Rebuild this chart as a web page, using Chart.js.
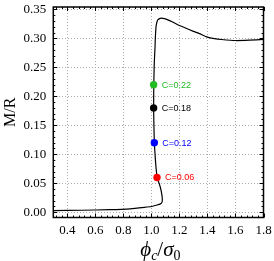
<!DOCTYPE html>
<html><head><meta charset="utf-8">
<script src="https://cdn.jsdelivr.net/npm/chart.js@4/dist/chart.umd.min.js"></script>
<style>html,body{margin:0;padding:0;background:#fff}canvas{display:block}</style>
</head><body>
<canvas id="c" width="274" height="261"></canvas>
<script>
const curveX=[0.30,0.50,0.70,0.85,0.95,1.00,1.04,1.065,1.076,1.078,1.075,1.066,1.055,1.041,1.032,1.026,1.021,1.018,1.016,1.017,1.021,1.026,1.028,1.034,1.045,1.063,1.081,1.105,1.152,1.20,1.30,1.343,1.40,1.45,1.50,1.60,1.70,1.80];
const curveY=[0.003,0.0035,0.0045,0.006,0.0085,0.010,0.0125,0.0145,0.0175,0.022,0.030,0.041,0.050,0.060,0.080,0.100,0.120,0.150,0.180,0.220,0.260,0.285,0.300,0.322,0.3316,0.3345,0.3345,0.333,0.328,0.322,0.312,0.308,0.302,0.2995,0.298,0.2962,0.2968,0.298];
const markX=[1.016,1.016,1.021,1.040];
const markY=[0.22,0.18,0.12,0.06];
const markLabels=['C=0.22','C=0.18','C=0.12','C=0.06'];
const markColors=['#22bb22','#000000','#0000ff','#ff0000'];
const xTicks=[0.4,0.6,0.8,1.0,1.2,1.4,1.6,1.8];
const yTicks=[0.00,0.05,0.10,0.15,0.20,0.25,0.30,0.35];

const datasets=[{
  data:curveX.map((x,i)=>({x:x,y:curveY[i]})),
  showLine:true,borderColor:'#000',borderWidth:1.2,pointRadius:0,tension:0.15,order:2
}];
markX.forEach((x,i)=>datasets.push({
  data:[{x:x,y:markY[i]}],pointRadius:3.7,pointBackgroundColor:markColors[i],
  pointBorderWidth:0,showLine:false,order:1,label:markLabels[i]
}));

const deco={
  id:'deco',
  afterDraw(chart){
    const ctx=chart.ctx, a=chart.chartArea, xs=chart.scales.x, ys=chart.scales.y;
    ctx.save();
    ctx.strokeStyle='#000';ctx.lineWidth=1;
    for(let v=0.32;v<=1.8001;v+=0.04){
      const px=Math.round(xs.getPixelForValue(v))+0.5;
      const major=Math.abs((v*5)-Math.round(v*5))<1e-6;
      const L=major?4:2;
      ctx.beginPath();ctx.moveTo(px,a.bottom);ctx.lineTo(px,a.bottom-L);
      ctx.moveTo(px,a.top);ctx.lineTo(px,a.top+L);ctx.stroke();
    }
    for(let v=0;v<=0.3501;v+=0.01){
      const py=Math.round(ys.getPixelForValue(v))+0.5;
      const major=Math.abs((v*20)-Math.round(v*20))<1e-6;
      const L=major?4:2;
      ctx.beginPath();ctx.moveTo(a.left,py);ctx.lineTo(a.left+L,py);
      ctx.moveTo(a.right,py);ctx.lineTo(a.right-L,py);ctx.stroke();
    }
    ctx.lineWidth=1.5;
    ctx.strokeRect(a.left,a.top,a.right-a.left,a.bottom-a.top);
    ctx.font='9px "Liberation Sans", Arial, sans-serif';
    ctx.textBaseline='middle';ctx.textAlign='left';
    markLabels.forEach((t,i)=>{
      const p=chart.getDatasetMeta(i+1).data[0];
      ctx.fillStyle=markColors[i];
      ctx.fillText(t,p.x+8,p.y+0.5);
    });
    ctx.fillStyle='#000';ctx.textBaseline='alphabetic';
    const big='italic 21px "Liberation Serif", "DejaVu Serif", serif';
    const bigR='21px "Liberation Serif", "DejaVu Serif", serif';
    const smallI='italic 14px "Liberation Serif", "DejaVu Serif", serif';
    const smallR='14px "Liberation Serif", "DejaVu Serif", serif';
    const parts=[['ϕ',big,0],['c',smallI,4],['/',bigR,0],['σ',big,0],['0',smallR,4]];
    let w=0;parts.forEach(p=>{ctx.font=p[1];w+=ctx.measureText(p[0]).width;});
    let x=(a.left+a.right)/2-w/2+2;const base=256;
    parts.forEach(p=>{ctx.font=p[1];ctx.fillText(p[0],x,base+p[2]);x+=ctx.measureText(p[0]).width;});
    ctx.restore();
  }
};

new Chart(document.getElementById('c'),{
  type:'scatter',
  data:{datasets:datasets},
  plugins:[deco],
  options:{
    responsive:false,animation:false,
    layout:{padding:{top:7,right:10.5,left:1,bottom:0}},
    plugins:{legend:{display:false},tooltip:{enabled:false}},
    scales:{
      x:{min:0.3,max:1.8,
        afterBuildTicks(s){s.ticks=xTicks.map(v=>({value:v}));},
        afterFit(s){s.height=43.5;s.paddingLeft=0;s.paddingRight=0;},
        ticks:{callback:v=>Number(v).toFixed(1),color:'#000',padding:5,maxRotation:0,
          font:{family:'"Liberation Serif", serif',size:13}},
        grid:{color:'#aaaaaa',lineWidth:1,drawTicks:false,tickLength:0},
        border:{display:false,dash:[1,2]}
      },
      y:{min:-0.009,max:0.354,
        afterBuildTicks(s){s.ticks=yTicks.map(v=>({value:v}));},
        afterFit(s){s.width=52.3;s.paddingTop=0;s.paddingBottom=0;},
        title:{display:true,text:'M/R',color:'#000',padding:{top:0,bottom:1},
          font:{family:'"Liberation Serif", serif',size:16}},
        ticks:{callback:v=>Number(v).toFixed(2),color:'#000',padding:7,
          font:{family:'"Liberation Serif", serif',size:13}},
        grid:{color:'#aaaaaa',lineWidth:1,drawTicks:false,tickLength:0},
        border:{display:false,dash:[1,2]}
      }
    }
  }
});
</script>
</body></html>
